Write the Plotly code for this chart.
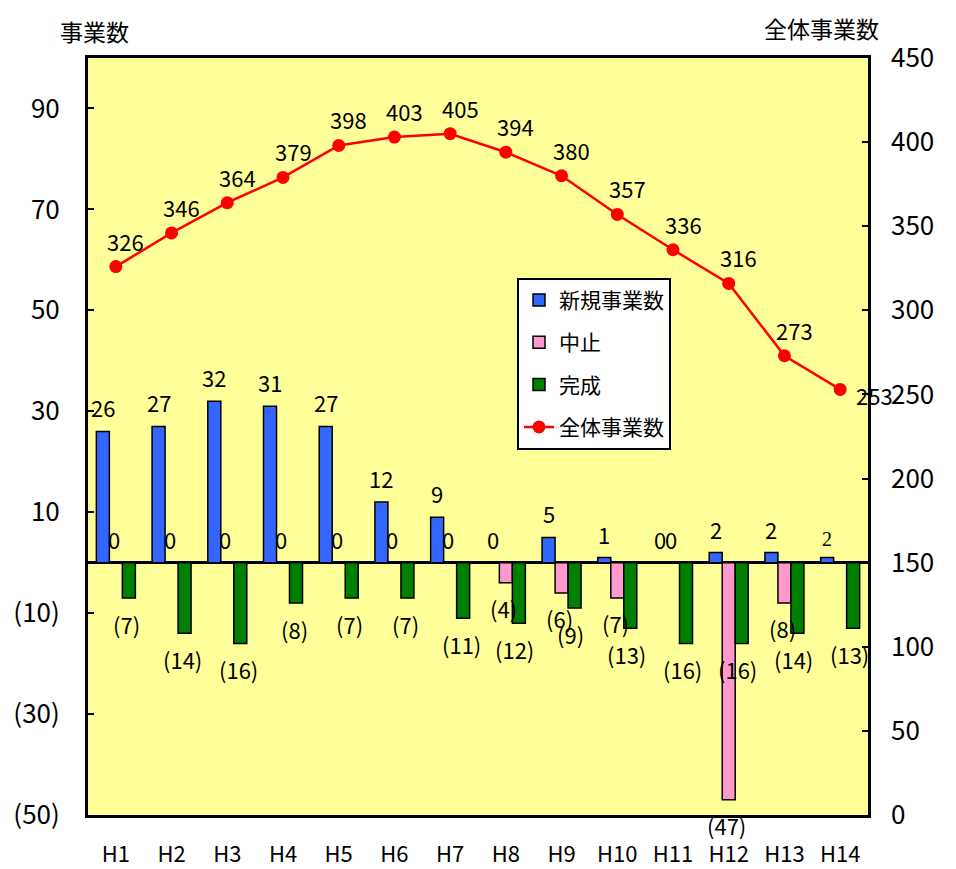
import plotly.graph_objects as go

years = ["H1", "H2", "H3", "H4", "H5", "H6", "H7", "H8", "H9", "H10", "H11", "H12", "H13", "H14"]
new_projects = [26, 27, 32, 31, 27, 12, 9, 0, 5, 1, 0, 2, 2, 1]
new_labels = ["26", "27", "32", "31", "27", "12", "9", "0", "5", "1", "0", "2", "2", "2"]
cancelled = [0, 0, 0, 0, 0, 0, 0, -4, -6, -7, 0, -47, -8, None]
completed = [-7, -14, -16, -8, -7, -7, -11, -12, -9, -13, -16, -16, -14, -13]
total = [326, 346, 364, 379, 398, 403, 405, 394, 380, 357, 336, 316, 273, 253]

left_ticks = [-50, -30, -10, 10, 30, 50, 70, 90]
left_ticktext = ["(50)", "(30)", "(10)", "10", "30", "50", "70", "90"]
right_ticks = [0, 50, 100, 150, 200, 250, 300, 350, 400, 450]

FONT = "Noto Sans CJK JP"

fig = go.Figure()
fig.add_trace(go.Bar(x=years, y=new_projects, name="新規事業数", legendgroup="a",
                     marker=dict(color="#3366FF", line=dict(color="black", width=1.5))))
fig.add_trace(go.Bar(x=years, y=cancelled, name="中止", legendgroup="b",
                     marker=dict(color="#FF99CC", line=dict(color="black", width=1.5))))
fig.add_trace(go.Bar(x=years, y=completed, name="完成", legendgroup="c",
                     marker=dict(color="#008000", line=dict(color="black", width=1.5))))
fig.add_trace(go.Scatter(x=years, y=total, name="全体事業数", legendgroup="d", yaxis="y2",
                         mode="lines+markers", line=dict(color="#FF0000", width=2.5),
                         marker=dict(color="#FF0000", size=13)))

def fmt(v):
    return f"({abs(v)})" if v < 0 else str(v)

ann = []
BW = 13
for i, yr in enumerate(years):
    v = new_projects[i]
    lab = new_labels[i]
    f = dict(family=FONT, size=22, color="black")
    if i == len(years) - 1:
        f = dict(family="Liberation Serif", size=20, color="black")
    ann.append(dict(x=yr, y=v, text=lab, showarrow=False, xshift=-BW, yshift=6,
                    yanchor="bottom", font=f))
    c = cancelled[i]
    if c is not None:
        if c >= 0:
            ann.append(dict(x=yr, y=c, text=fmt(c), showarrow=False, xshift=-2, yshift=6,
                            yanchor="bottom", font=dict(family=FONT, size=22, color="black")))
        else:
            ann.append(dict(x=yr, y=c, text=fmt(c), showarrow=False, xshift=-2, yshift=-7,
                            yanchor="top", font=dict(family=FONT, size=22, color="black")))
    g = completed[i]
    ann.append(dict(x=yr, y=g, text=fmt(g), showarrow=False, xshift=BW - 4 if i >= 7 else BW - 2,
                    yshift=-8, yanchor="top", font=dict(family=FONT, size=22, color="black")))
    t = total[i]
    if i == len(years) - 1:
        ann.append(dict(x=yr, y=t, yref="y2", text=str(t), showarrow=False, xshift=14, yshift=-6,
                        xanchor="left", yanchor="middle", font=dict(family=FONT, size=22, color="black")))
    else:
        ann.append(dict(x=yr, y=t, yref="y2", text=str(t), showarrow=False, xshift=10, yshift=8,
                        yanchor="bottom", font=dict(family=FONT, size=22, color="black")))

ann.append(dict(xref="paper", yref="paper", x=0.008, y=1.036, text="事業数", showarrow=False,
                font=dict(family=FONT, size=23, color="black"), xanchor="center", yanchor="middle"))
ann.append(dict(xref="paper", yref="paper", x=0.941, y=1.039, text="全体事業数", showarrow=False,
                font=dict(family=FONT, size=23, color="black"), xanchor="center", yanchor="middle"))

fig.update_layout(
    width=956, height=869,
    margin=dict(l=88, r=88, t=58, b=54, autoexpand=False),
    paper_bgcolor="white", plot_bgcolor="#FFFF99",
    barmode="group", bargap=0.3, bargroupgap=0,
    font=dict(family=FONT, color="black"),
    annotations=ann,
    xaxis=dict(type="category", range=[-0.5, len(years) - 0.5], showline=True, mirror=True,
               linecolor="black", linewidth=3, automargin=False,
               showgrid=False, ticks="", tickfont=dict(family=FONT, size=22), ticklabelstandoff=18),
    yaxis=dict(range=[-50, 100], tickvals=left_ticks, ticktext=left_ticktext, showgrid=False,
               showline=True, mirror=True, linecolor="black", linewidth=3, automargin=False,
               ticks="inside", ticklen=6, tickcolor="black", tickwidth=2,
               zeroline=True, zerolinecolor="black", zerolinewidth=2.5,
               tickfont=dict(family=FONT, size=26), ticklabelstandoff=20),
    yaxis2=dict(range=[0, 450], tickvals=right_ticks, overlaying="y", side="right",
                automargin=False,
                showgrid=False, zeroline=False, ticks="inside", ticklen=6, tickcolor="black",
                tickwidth=2, tickfont=dict(family=FONT, size=26), ticklabelstandoff=22),
    legend=dict(x=0.55, y=0.7096, xanchor="left", yanchor="top", bgcolor="white",
                bordercolor="black", borderwidth=2, traceorder="grouped", tracegroupgap=12,
                font=dict(family=FONT, size=21, color="black")),
    showlegend=True,
)

fig.write_html("out.html")
